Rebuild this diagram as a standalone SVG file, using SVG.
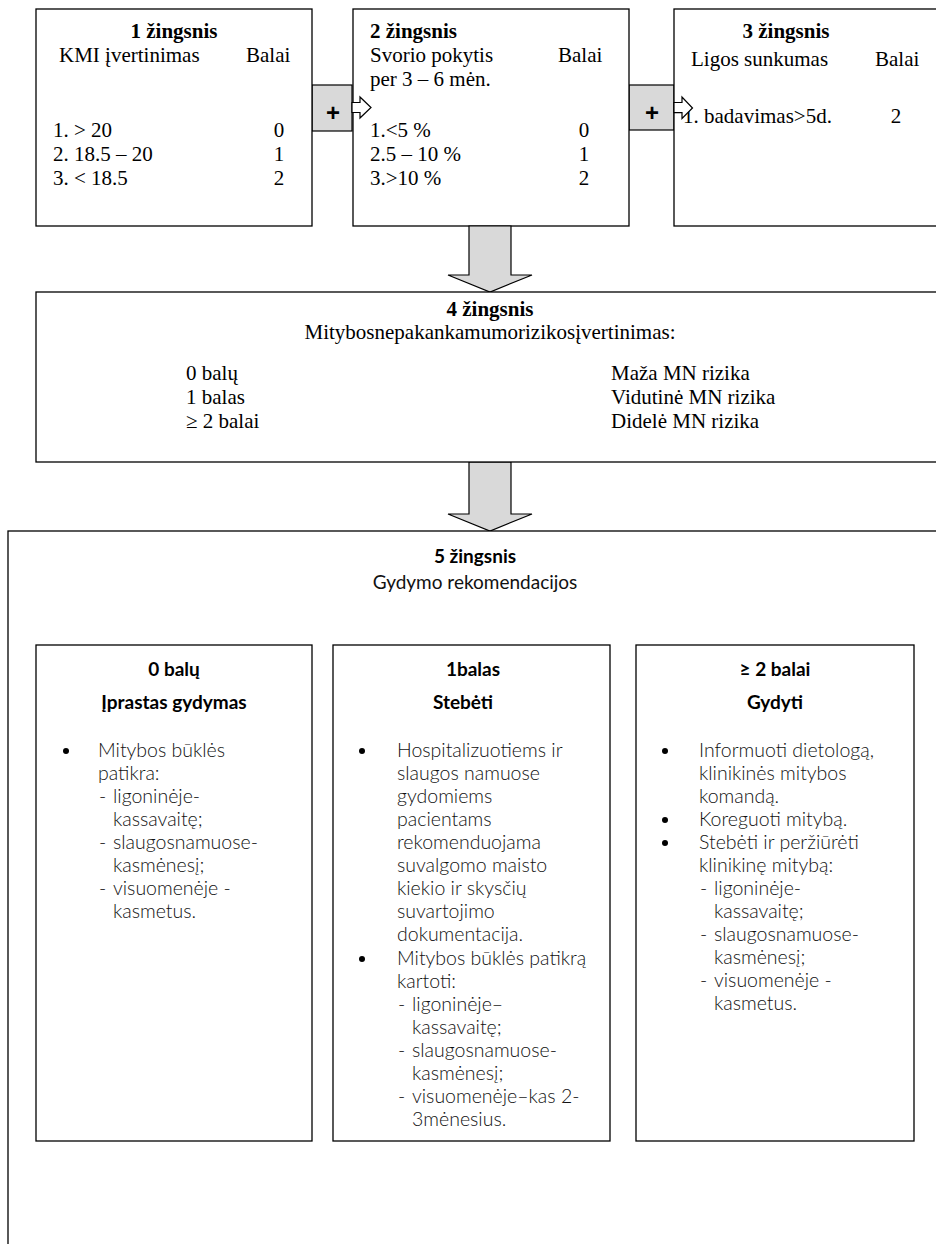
<svg xmlns="http://www.w3.org/2000/svg" width="936" height="1244" viewBox="0 0 936 1244">
  <style>
    .box { fill: #ffffff; stroke: #000000; stroke-width: 1.3; }
    .arrow { fill: #d9d9d9; stroke: #000000; stroke-width: 1.2; stroke-linejoin: miter; }
    .tip { fill: #ffffff; stroke: #000000; stroke-width: 1.2; }
    .serif { font-family: "Liberation Serif", "Times New Roman", serif; font-size: 21px; fill: #000; }
    .serif-b { font-family: "Liberation Serif", "Times New Roman", serif; font-size: 21px; font-weight: bold; fill: #000; }
    .plus { font-family: "Liberation Sans", Arial, sans-serif; font-size: 24px; font-weight: bold; fill: #000; }
    .sans-h { font-family: Lato, "Noto Sans", sans-serif; font-size: 19px; font-weight: bold; fill: #000; }
    .sans { font-family: Lato, "Noto Sans", sans-serif; font-size: 19.5px; font-weight: 300; fill: #111; }
    .c { text-anchor: middle; }
  </style>

  <!-- connectors: plus arrows and down arrows -->
  <g id="connectors">
    <rect class="arrow" x="312" y="85" width="40" height="46"/>
    <text class="plus c" x="333" y="121">+</text>
    <rect class="arrow" x="629" y="85" width="45" height="45"/>
    <text class="plus c" x="652" y="121">+</text>
  </g>

  <!-- step 1 -->
  <g id="step1">
    <rect class="box" x="36" y="9" width="276" height="217"/>
    <text class="serif-b c" x="174" y="38">1 žingsnis</text>
    <text class="serif" x="59" y="62">KMI įvertinimas</text>
    <text class="serif" x="246" y="62">Balai</text>
    <text class="serif" x="53" y="137">1. &gt; 20</text>
    <text class="serif c" x="279" y="137">0</text>
    <text class="serif" x="53" y="161">2. 18.5 – 20</text>
    <text class="serif c" x="279" y="161">1</text>
    <text class="serif" x="53" y="185">3. &lt; 18.5</text>
    <text class="serif c" x="279" y="185">2</text>
  </g>

  <!-- step 2 -->
  <g id="step2">
    <rect class="box" x="353" y="9" width="276" height="217"/>
    <text class="serif-b" x="370" y="38">2 žingsnis</text>
    <text class="serif" x="370" y="62">Svorio pokytis</text>
    <text class="serif" x="558" y="62">Balai</text>
    <text class="serif" x="370" y="86">per 3 – 6 mėn.</text>
    <text class="serif" x="370" y="137">1.&lt;5 %</text>
    <text class="serif c" x="584" y="137">0</text>
    <text class="serif" x="370" y="161">2.5 – 10 %</text>
    <text class="serif c" x="584" y="161">1</text>
    <text class="serif" x="370" y="185">3.&gt;10 %</text>
    <text class="serif c" x="584" y="185">2</text>
  </g>

  <!-- step 3 -->
  <g id="step3">
    <rect class="box" x="674" y="9" width="280" height="217"/>
    <text class="serif-b c" x="786" y="38">3 žingsnis</text>
    <text class="serif" x="691" y="66">Ligos sunkumas</text>
    <text class="serif" x="875" y="66">Balai</text>
    <text class="serif" x="683" y="123">1. badavimas&gt;5d.</text>
    <text class="serif c" x="896" y="123">2</text>
  </g>

  <!-- connector tips and down arrows, drawn over the step boxes -->
  <g id="connector-tips">
    <polygon class="tip" points="352,102.5 360,102.5 360,97 371,107.5 360,118 360,112.5 352,112.5"/>
    <polygon class="tip" points="674,102.5 682,102.5 682,97 692.5,108 682,118.5 682,112.7 674,112.7"/>
    <polygon class="arrow" points="469,226 511,226 511,275 532,275 490,292 448,275 469,275"/>
    <polygon class="arrow" points="469,462 511,462 511,514 532,514 490,531 448,514 469,514"/>
  </g>

  <!-- step 4 -->
  <g id="step4">
    <rect class="box" x="36" y="292" width="920" height="170"/>
    <text class="serif-b c" x="490" y="316">4 žingsnis</text>
    <text class="serif c" x="490" y="339">Mitybosnepakankamumorizikosįvertinimas:</text>
    <text class="serif" x="186" y="380">0 balų</text>
    <text class="serif" x="186" y="404">1 balas</text>
    <text class="serif" x="186" y="428">≥ 2 balai</text>
    <text class="serif" x="611" y="380">Maža MN rizika</text>
    <text class="serif" x="611" y="404">Vidutinė MN rizika</text>
    <text class="serif" x="611" y="428">Didelė MN rizika</text>
  </g>

  <!-- step 5 -->
  <g id="step5">
    <rect class="box" x="8" y="531" width="950" height="730"/>
    <text class="sans-h c" x="475" y="563">5 žingsnis</text>
    <text class="sans c" x="475" y="589" style="font-weight:400;font-size:19px">Gydymo rekomendacijos</text>
  </g>

  <!-- 0 points: usual care -->
  <g id="care-0">
    <rect class="box" x="36" y="645" width="276" height="496"/>
    <text class="sans-h c" x="174" y="676">0 balų</text>
    <text class="sans-h c" x="174" y="709">Įprastas gydymas</text>
    <circle cx="66" cy="751" r="3"/>
    <text class="sans" x="98" y="757">Mitybos būklės</text>
    <text class="sans" x="98" y="780">patikra:</text>
    <text class="sans" x="99" y="803">-</text>
    <text class="sans" x="113" y="803">ligoninėje-</text>
    <text class="sans" x="113" y="826">kassavaitę;</text>
    <text class="sans" x="99" y="849">-</text>
    <text class="sans" x="113" y="849">slaugosnamuose-</text>
    <text class="sans" x="113" y="872">kasmėnesį;</text>
    <text class="sans" x="99" y="895">-</text>
    <text class="sans" x="113" y="895">visuomenėje -</text>
    <text class="sans" x="113" y="918">kasmetus.</text>
  </g>

  <!-- 1 point: observe -->
  <g id="care-1">
    <rect class="box" x="333" y="645" width="277" height="496"/>
    <text class="sans-h c" x="473" y="676">1balas</text>
    <text class="sans-h c" x="463" y="709">Stebėti</text>
    <circle cx="362" cy="751" r="3"/>
    <text class="sans" x="397" y="757">Hospitalizuotiems ir</text>
    <text class="sans" x="397" y="780">slaugos namuose</text>
    <text class="sans" x="397" y="803">gydomiems</text>
    <text class="sans" x="397" y="826">pacientams</text>
    <text class="sans" x="397" y="849">rekomenduojama</text>
    <text class="sans" x="397" y="872">suvalgomo maisto</text>
    <text class="sans" x="397" y="895">kiekio ir skysčių</text>
    <text class="sans" x="397" y="918">suvartojimo</text>
    <text class="sans" x="397" y="941">dokumentacija.</text>
    <circle cx="362" cy="959" r="3"/>
    <text class="sans" x="397" y="965">Mitybos būklės patikrą</text>
    <text class="sans" x="397" y="988">kartoti:</text>
    <text class="sans" x="398" y="1011">-</text>
    <text class="sans" x="412" y="1011">ligoninėje–</text>
    <text class="sans" x="412" y="1034">kassavaitę;</text>
    <text class="sans" x="398" y="1057">-</text>
    <text class="sans" x="412" y="1057">slaugosnamuose-</text>
    <text class="sans" x="412" y="1080">kasmėnesį;</text>
    <text class="sans" x="398" y="1103">-</text>
    <text class="sans" x="412" y="1103">visuomenėje–kas 2-</text>
    <text class="sans" x="412" y="1126">3mėnesius.</text>
  </g>

  <!-- 2 or more points: treat -->
  <g id="care-2">
    <rect class="box" x="636" y="645" width="278" height="496"/>
    <text class="sans-h c" x="775" y="676">≥ 2 balai</text>
    <text class="sans-h c" x="775" y="709">Gydyti</text>
    <circle cx="665" cy="751" r="3"/>
    <text class="sans" x="699" y="757">Informuoti dietologą,</text>
    <text class="sans" x="699" y="780">klinikinės mitybos</text>
    <text class="sans" x="699" y="803">komandą.</text>
    <circle cx="665" cy="820" r="3"/>
    <text class="sans" x="699" y="826">Koreguoti mitybą.</text>
    <circle cx="665" cy="843" r="3"/>
    <text class="sans" x="699" y="849">Stebėti ir peržiūrėti</text>
    <text class="sans" x="699" y="872">klinikinę mitybą:</text>
    <text class="sans" x="700" y="895">-</text>
    <text class="sans" x="714" y="895">ligoninėje-</text>
    <text class="sans" x="714" y="918">kassavaitę;</text>
    <text class="sans" x="700" y="941">-</text>
    <text class="sans" x="714" y="941">slaugosnamuose-</text>
    <text class="sans" x="714" y="964">kasmėnesį;</text>
    <text class="sans" x="700" y="987">-</text>
    <text class="sans" x="714" y="987">visuomenėje -</text>
    <text class="sans" x="714" y="1010">kasmetus.</text>
  </g>
</svg>
